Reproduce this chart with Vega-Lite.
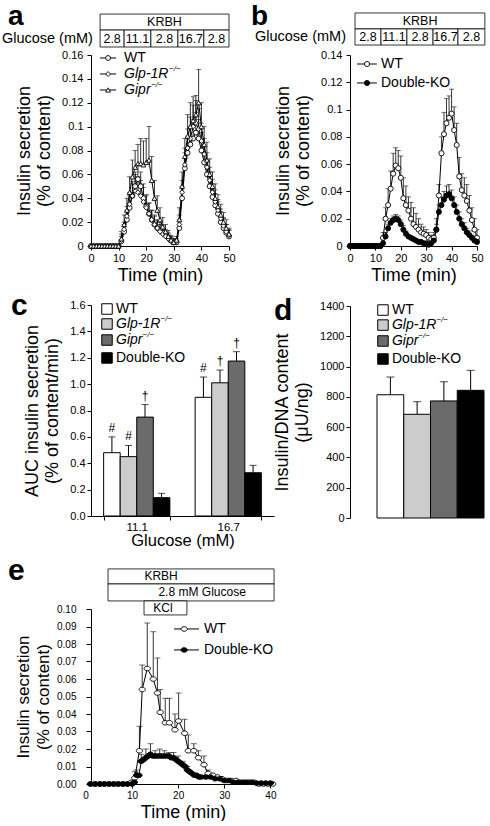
{
"$schema": "https://vega.github.io/schema/vega-lite/v6.json",
"padding": {"left": 1, "top": 2, "right": 0, "bottom": 0},
"spacing": -28,
"config": {
 "font": "Liberation Sans",
 "view": {"stroke": null},
 "axis": {"domainColor": "black", "tickColor": "black", "labelColor": "black", "titleColor": "black", "grid": false, "titleFontWeight": "normal", "labelFontSize": 11, "titleFontSize": 18, "titleLineHeight": 20, "tickSize": 4, "labelPadding": 2, "titlePadding": 3, "domainWidth": 1, "tickWidth": 1, "labelOverlap": false, "labelFlush": false},
 "axisY": {"titlePadding": 8},
 "text": {"color": "black"}
},
"datasets": {
 "a": [
  {"s":"WT","t":0,"v":0},{"s":"WT","t":1,"v":0},{"s":"WT","t":2,"v":0},{"s":"WT","t":3,"v":0},{"s":"WT","t":4,"v":0},{"s":"WT","t":5,"v":0},{"s":"WT","t":6,"v":0},{"s":"WT","t":7,"v":0},{"s":"WT","t":8,"v":0},{"s":"WT","t":9,"v":0},{"s":"WT","t":10,"v":0},
  {"s":"WT","t":11,"v":0.004,"h":0.008},{"s":"WT","t":12,"v":0.012,"h":0.018},{"s":"WT","t":13,"v":0.022,"h":0.03},{"s":"WT","t":14,"v":0.032,"h":0.042},{"s":"WT","t":15,"v":0.042,"h":0.052},{"s":"WT","t":16,"v":0.05,"h":0.062},{"s":"WT","t":17,"v":0.056,"h":0.068},{"s":"WT","t":18,"v":0.05,"h":0.062},{"s":"WT","t":19,"v":0.04,"h":0.052},{"s":"WT","t":20,"v":0.033,"h":0.043},
  {"s":"WT","t":21,"v":0.027,"h":0.036},{"s":"WT","t":22,"v":0.022,"h":0.03},{"s":"WT","t":23,"v":0.018,"h":0.026},{"s":"WT","t":24,"v":0.015,"h":0.022},{"s":"WT","t":25,"v":0.013,"h":0.02},{"s":"WT","t":26,"v":0.011,"h":0.017},{"s":"WT","t":27,"v":0.009,"h":0.014},{"s":"WT","t":28,"v":0.007,"h":0.011},{"s":"WT","t":29,"v":0.005,"h":0.008},{"s":"WT","t":30,"v":0.003,"h":0.006},
  {"s":"WT","t":31,"v":0.003,"h":0.005},{"s":"WT","t":32,"v":0.015,"h":0.022},{"s":"WT","t":33,"v":0.04,"h":0.05},{"s":"WT","t":34,"v":0.065,"h":0.078},{"s":"WT","t":35,"v":0.078,"h":0.092},{"s":"WT","t":36,"v":0.085,"h":0.1},{"s":"WT","t":37,"v":0.09,"h":0.106},{"s":"WT","t":38,"v":0.095,"h":0.112},{"s":"WT","t":39,"v":0.09,"h":0.106},{"s":"WT","t":40,"v":0.08,"h":0.095},
  {"s":"WT","t":41,"v":0.07,"h":0.083},{"s":"WT","t":42,"v":0.06,"h":0.072},{"s":"WT","t":43,"v":0.05,"h":0.062},{"s":"WT","t":44,"v":0.041,"h":0.052},{"s":"WT","t":45,"v":0.034,"h":0.044},{"s":"WT","t":46,"v":0.027,"h":0.037},{"s":"WT","t":47,"v":0.02,"h":0.029},{"s":"WT","t":48,"v":0.015,"h":0.023},{"s":"WT","t":49,"v":0.011,"h":0.018},{"s":"WT","t":50,"v":0.008,"h":0.013},
  {"s":"Glp","t":0,"v":0},{"s":"Glp","t":1,"v":0},{"s":"Glp","t":2,"v":0},{"s":"Glp","t":3,"v":0},{"s":"Glp","t":4,"v":0},{"s":"Glp","t":5,"v":0},{"s":"Glp","t":6,"v":0},{"s":"Glp","t":7,"v":0},{"s":"Glp","t":8,"v":0},{"s":"Glp","t":9,"v":0},{"s":"Glp","t":10,"v":0},
  {"s":"Glp","t":11,"v":0.005,"h":0.01},{"s":"Glp","t":12,"v":0.014,"h":0.02},{"s":"Glp","t":13,"v":0.025,"h":0.033},{"s":"Glp","t":14,"v":0.035,"h":0.045},{"s":"Glp","t":15,"v":0.042,"h":0.054},{"s":"Glp","t":16,"v":0.046,"h":0.06},{"s":"Glp","t":17,"v":0.045,"h":0.058},{"s":"Glp","t":18,"v":0.042,"h":0.055},{"s":"Glp","t":19,"v":0.037,"h":0.049},{"s":"Glp","t":20,"v":0.032,"h":0.042},
  {"s":"Glp","t":21,"v":0.027,"h":0.036},{"s":"Glp","t":22,"v":0.022,"h":0.03},{"s":"Glp","t":23,"v":0.018,"h":0.025},{"s":"Glp","t":24,"v":0.015,"h":0.021},{"s":"Glp","t":25,"v":0.012,"h":0.018},{"s":"Glp","t":26,"v":0.01,"h":0.015},{"s":"Glp","t":27,"v":0.008,"h":0.012},{"s":"Glp","t":28,"v":0.006,"h":0.01},{"s":"Glp","t":29,"v":0.004,"h":0.007},{"s":"Glp","t":30,"v":0.003,"h":0.005},
  {"s":"Glp","t":31,"v":0.004,"h":0.006},{"s":"Glp","t":32,"v":0.018,"h":0.026},{"s":"Glp","t":33,"v":0.045,"h":0.055},{"s":"Glp","t":34,"v":0.068,"h":0.082},{"s":"Glp","t":35,"v":0.082,"h":0.098},{"s":"Glp","t":36,"v":0.09,"h":0.108},{"s":"Glp","t":37,"v":0.1,"h":0.118},{"s":"Glp","t":38,"v":0.103,"h":0.122},{"s":"Glp","t":39,"v":0.098,"h":0.115},{"s":"Glp","t":40,"v":0.088,"h":0.103},
  {"s":"Glp","t":41,"v":0.077,"h":0.09},{"s":"Glp","t":42,"v":0.066,"h":0.078},{"s":"Glp","t":43,"v":0.055,"h":0.066},{"s":"Glp","t":44,"v":0.045,"h":0.056},{"s":"Glp","t":45,"v":0.037,"h":0.047},{"s":"Glp","t":46,"v":0.03,"h":0.039},{"s":"Glp","t":47,"v":0.023,"h":0.031},{"s":"Glp","t":48,"v":0.017,"h":0.024},{"s":"Glp","t":49,"v":0.012,"h":0.018},{"s":"Glp","t":50,"v":0.009,"h":0.014},
  {"s":"Gipr","t":0,"v":0},{"s":"Gipr","t":1,"v":0},{"s":"Gipr","t":2,"v":0},{"s":"Gipr","t":3,"v":0},{"s":"Gipr","t":4,"v":0},{"s":"Gipr","t":5,"v":0},{"s":"Gipr","t":6,"v":0},{"s":"Gipr","t":7,"v":0},{"s":"Gipr","t":8,"v":0},{"s":"Gipr","t":9,"v":0},{"s":"Gipr","t":10,"v":0},
  {"s":"Gipr","t":11,"v":0.006,"h":0.012},{"s":"Gipr","t":12,"v":0.018,"h":0.026},{"s":"Gipr","t":13,"v":0.03,"h":0.04},{"s":"Gipr","t":14,"v":0.045,"h":0.058},{"s":"Gipr","t":15,"v":0.058,"h":0.072},{"s":"Gipr","t":16,"v":0.066,"h":0.08},{"s":"Gipr","t":17,"v":0.069,"h":0.085},{"s":"Gipr","t":18,"v":0.069,"h":0.09},{"s":"Gipr","t":19,"v":0.068,"h":0.088},{"s":"Gipr","t":20,"v":0.07,"h":0.09},
  {"s":"Gipr","t":21,"v":0.072,"h":0.1},{"s":"Gipr","t":22,"v":0.055,"h":0.075},{"s":"Gipr","t":23,"v":0.04,"h":0.055},{"s":"Gipr","t":24,"v":0.03,"h":0.042},{"s":"Gipr","t":25,"v":0.022,"h":0.032},{"s":"Gipr","t":26,"v":0.016,"h":0.024},{"s":"Gipr","t":27,"v":0.012,"h":0.018},{"s":"Gipr","t":28,"v":0.008,"h":0.013},{"s":"Gipr","t":29,"v":0.005,"h":0.009},{"s":"Gipr","t":30,"v":0.003,"h":0.006},
  {"s":"Gipr","t":31,"v":0.005,"h":0.008},{"s":"Gipr","t":32,"v":0.022,"h":0.032},{"s":"Gipr","t":33,"v":0.05,"h":0.062},{"s":"Gipr","t":34,"v":0.075,"h":0.09},{"s":"Gipr","t":35,"v":0.092,"h":0.11},{"s":"Gipr","t":36,"v":0.1,"h":0.12},{"s":"Gipr","t":37,"v":0.105,"h":0.125},{"s":"Gipr","t":38,"v":0.11,"h":0.126},{"s":"Gipr","t":39,"v":0.12,"h":0.148},{"s":"Gipr","t":40,"v":0.1,"h":0.12},
  {"s":"Gipr","t":41,"v":0.085,"h":0.1},{"s":"Gipr","t":42,"v":0.072,"h":0.087},{"s":"Gipr","t":43,"v":0.06,"h":0.073},{"s":"Gipr","t":44,"v":0.05,"h":0.062},{"s":"Gipr","t":45,"v":0.04,"h":0.052},{"s":"Gipr","t":46,"v":0.033,"h":0.043},{"s":"Gipr","t":47,"v":0.026,"h":0.035},{"s":"Gipr","t":48,"v":0.02,"h":0.028},{"s":"Gipr","t":49,"v":0.015,"h":0.022},{"s":"Gipr","t":50,"v":0.01,"h":0.015}
 ],
 "aBox": [
  {"t":3.3,"t2":50,"v":0.1809,"v2":0.1943},{"t":3.3,"t2":12,"v":0.1667,"v2":0.1809},{"t":12,"t2":21.7,"v":0.1667,"v2":0.1809},{"t":21.7,"t2":31.5,"v":0.1667,"v2":0.1809},{"t":31.5,"t2":40.9,"v":0.1667,"v2":0.1809},{"t":40.9,"t2":50,"v":0.1667,"v2":0.1809}
 ],
 "aBoxText": [
  {"label":"KRBH","t":26.6,"v":0.1876},{"label":"2.8","t":7.65,"v":0.1738},{"label":"11.1","t":16.85,"v":0.1738},{"label":"2.8","t":26.6,"v":0.1738},{"label":"16.7","t":36.2,"v":0.1738},{"label":"2.8","t":45.45,"v":0.1738}
 ],
 "aLeg": [
  {"s":"WT","label":"WT","v":0.1575},{"s":"Glp","label":"Glp-1R","v":0.1441},{"s":"Gipr","label":"Gipr","v":0.1307}
 ],
 "b": [
  {"s":"WT","t":0,"v":0},{"s":"WT","t":1,"v":0},{"s":"WT","t":2,"v":0},{"s":"WT","t":3,"v":0},{"s":"WT","t":4,"v":0},{"s":"WT","t":5,"v":0},{"s":"WT","t":6,"v":0},{"s":"WT","t":7,"v":0},{"s":"WT","t":8,"v":0},{"s":"WT","t":9,"v":0},{"s":"WT","t":10,"v":0},{"s":"WT","t":11,"v":0},{"s":"WT","t":12,"v":0},
  {"s":"WT","t":13,"v":0.006,"h":0.01},{"s":"WT","t":14,"v":0.02,"h":0.028},{"s":"WT","t":15,"v":0.03,"h":0.042},{"s":"WT","t":16,"v":0.042,"h":0.055},{"s":"WT","t":17,"v":0.053,"h":0.068},{"s":"WT","t":18,"v":0.059,"h":0.072},{"s":"WT","t":19,"v":0.057,"h":0.07},{"s":"WT","t":20,"v":0.05,"h":0.066},
  {"s":"WT","t":21,"v":0.035,"h":0.05},{"s":"WT","t":22,"v":0.03,"h":0.044},{"s":"WT","t":23,"v":0.026,"h":0.036},{"s":"WT","t":24,"v":0.02,"h":0.032},{"s":"WT","t":25,"v":0.016,"h":0.028},{"s":"WT","t":26,"v":0.014,"h":0.024},{"s":"WT","t":27,"v":0.012,"h":0.02},{"s":"WT","t":28,"v":0.01,"h":0.016},{"s":"WT","t":29,"v":0.009,"h":0.014},{"s":"WT","t":30,"v":0.008,"h":0.012},
  {"s":"WT","t":31,"v":0.006,"h":0.01},{"s":"WT","t":32,"v":0.005,"h":0.008},{"s":"WT","t":33,"v":0.006,"h":0.01},{"s":"WT","t":34,"v":0.012,"h":0.02},{"s":"WT","t":35,"v":0.037,"h":0.045},{"s":"WT","t":36,"v":0.068,"h":0.08},{"s":"WT","t":37,"v":0.082,"h":0.098},{"s":"WT","t":38,"v":0.09,"h":0.108},{"s":"WT","t":39,"v":0.094,"h":0.11},{"s":"WT","t":40,"v":0.097,"h":0.115},
  {"s":"WT","t":41,"v":0.085,"h":0.102},{"s":"WT","t":42,"v":0.074,"h":0.09},{"s":"WT","t":43,"v":0.051,"h":0.065},{"s":"WT","t":44,"v":0.041,"h":0.053},{"s":"WT","t":45,"v":0.037,"h":0.05},{"s":"WT","t":46,"v":0.033,"h":0.045},{"s":"WT","t":47,"v":0.026,"h":0.037},{"s":"WT","t":48,"v":0.019,"h":0.028},{"s":"WT","t":49,"v":0.012,"h":0.02},{"s":"WT","t":50,"v":0.006,"h":0.012},
  {"s":"DKO","t":0,"v":0},{"s":"DKO","t":1,"v":0},{"s":"DKO","t":2,"v":0},{"s":"DKO","t":3,"v":0},{"s":"DKO","t":4,"v":0},{"s":"DKO","t":5,"v":0},{"s":"DKO","t":6,"v":0},{"s":"DKO","t":7,"v":0},{"s":"DKO","t":8,"v":0},{"s":"DKO","t":9,"v":0},{"s":"DKO","t":10,"v":0},{"s":"DKO","t":11,"v":0},{"s":"DKO","t":12,"v":0},
  {"s":"DKO","t":13,"v":0.002},{"s":"DKO","t":14,"v":0.007,"h":0.01},{"s":"DKO","t":15,"v":0.013,"h":0.016},{"s":"DKO","t":16,"v":0.017,"h":0.02},{"s":"DKO","t":17,"v":0.019,"h":0.022},{"s":"DKO","t":18,"v":0.02,"h":0.023},{"s":"DKO","t":19,"v":0.019,"h":0.022},{"s":"DKO","t":20,"v":0.016,"h":0.019},
  {"s":"DKO","t":21,"v":0.012,"h":0.015},{"s":"DKO","t":22,"v":0.009,"h":0.011},{"s":"DKO","t":23,"v":0.007},{"s":"DKO","t":24,"v":0.006},{"s":"DKO","t":25,"v":0.005},{"s":"DKO","t":26,"v":0.004},{"s":"DKO","t":27,"v":0.003},{"s":"DKO","t":28,"v":0.003},{"s":"DKO","t":29,"v":0.002},{"s":"DKO","t":30,"v":0.002},
  {"s":"DKO","t":31,"v":0.001},{"s":"DKO","t":32,"v":0.002},{"s":"DKO","t":33,"v":0.004},{"s":"DKO","t":34,"v":0.012,"h":0.016},{"s":"DKO","t":35,"v":0.025,"h":0.03},{"s":"DKO","t":36,"v":0.03,"h":0.036},{"s":"DKO","t":37,"v":0.034,"h":0.04},{"s":"DKO","t":38,"v":0.037,"h":0.044},{"s":"DKO","t":39,"v":0.038,"h":0.045},{"s":"DKO","t":40,"v":0.035,"h":0.041},
  {"s":"DKO","t":41,"v":0.03,"h":0.036},{"s":"DKO","t":42,"v":0.025,"h":0.03},{"s":"DKO","t":43,"v":0.02,"h":0.025},{"s":"DKO","t":44,"v":0.016,"h":0.02},{"s":"DKO","t":45,"v":0.013,"h":0.017},{"s":"DKO","t":46,"v":0.01,"h":0.013},{"s":"DKO","t":47,"v":0.008,"h":0.011},{"s":"DKO","t":48,"v":0.006,"h":0.008},{"s":"DKO","t":49,"v":0.004,"h":0.006},{"s":"DKO","t":50,"v":0.003,"h":0.005}
 ],
 "bBox": [
  {"t":1.97,"t2":53.1,"v":0.1591,"v2":0.1708},{"t":1.97,"t2":12.2,"v":0.1473,"v2":0.1591},{"t":12.2,"t2":22.4,"v":0.1473,"v2":0.1591},{"t":22.4,"t2":32.7,"v":0.1473,"v2":0.1591},{"t":32.7,"t2":42.5,"v":0.1473,"v2":0.1591},{"t":42.5,"t2":53.1,"v":0.1473,"v2":0.1591}
 ],
 "bBoxText": [
  {"label":"KRBH","t":27.6,"v":0.165},{"label":"2.8","t":7.1,"v":0.1532},{"label":"11.1","t":17.3,"v":0.1532},{"label":"2.8","t":27.6,"v":0.1532},{"label":"16.7","t":37.6,"v":0.1532},{"label":"2.8","t":47.8,"v":0.1532}
 ],
 "bLeg": [
  {"s":"WT","label":"WT","v":0.1334},{"s":"DKO","label":"Double-KO","v":0.1195}
 ],
 "c": [
  {"g":"11.1","s":"WT","v":0.48,"h":0.6,"m":"#"},{"g":"11.1","s":"Glp","v":0.45,"h":0.535,"m":"#"},{"g":"11.1","s":"Gipr","v":0.75,"h":0.845,"m":"†"},{"g":"11.1","s":"DKO","v":0.139,"h":0.172,"m":""},
  {"g":"16.7","s":"WT","v":0.9,"h":1.054,"m":"#"},{"g":"16.7","s":"Glp","v":1.01,"h":1.107,"m":"†"},{"g":"16.7","s":"Gipr","v":1.175,"h":1.246,"m":"†"},{"g":"16.7","s":"DKO","v":0.328,"h":0.384,"m":""}
 ],
 "d": [
  {"s":"WT","v":814,"h":931},{"s":"Glp","v":685,"h":768},{"s":"Gipr","v":773,"h":900},{"s":"DKO","v":843,"h":975}
 ],
 "cLeg": [
  {"s":"WT","label":"WT","ly":0.981},{"s":"Glp","label":"Glp-1R","ly":0.91},{"s":"Gipr","label":"Gipr","ly":0.834},{"s":"DKO","label":"Double-KO","ly":0.749}
 ],
 "dLeg": [
  {"s":"WT","label":"WT","ly":0.981},{"s":"Glp","label":"Glp-1R","ly":0.91},{"s":"Gipr","label":"Gipr","ly":0.835},{"s":"DKO","label":"Double-KO","ly":0.75}
 ],
 "e": [
  {"s":"WT","t":1,"v":0},{"s":"WT","t":2,"v":0},{"s":"WT","t":3,"v":0},{"s":"WT","t":4,"v":0},{"s":"WT","t":5,"v":0},{"s":"WT","t":6,"v":0},{"s":"WT","t":7,"v":0},{"s":"WT","t":8,"v":0},{"s":"WT","t":9,"v":0},{"s":"WT","t":9.8,"v":0.001},
  {"s":"WT","t":10.6,"v":0.0035,"h":0.007},{"s":"WT","t":11.6,"v":0.019,"h":0.033},{"s":"WT","t":12.2,"v":0.054,"h":0.068},{"s":"WT","t":13.3,"v":0.066,"h":0.092},{"s":"WT","t":14.6,"v":0.06,"h":0.087},{"s":"WT","t":15.5,"v":0.052,"h":0.072},{"s":"WT","t":16.1,"v":0.041,"h":0.054},{"s":"WT","t":17.2,"v":0.035,"h":0.049},{"s":"WT","t":18.1,"v":0.035,"h":0.049},{"s":"WT","t":19.3,"v":0.031,"h":0.04},
  {"s":"WT","t":20.1,"v":0.036,"h":0.052},{"s":"WT","t":21.4,"v":0.029,"h":0.037},{"s":"WT","t":22.2,"v":0.019,"h":0.028},{"s":"WT","t":23.4,"v":0.019,"h":0.023},{"s":"WT","t":24.4,"v":0.015,"h":0.019},{"s":"WT","t":25.6,"v":0.011,"h":0.016},{"s":"WT","t":26.5,"v":0.006,"h":0.008},{"s":"WT","t":27.5,"v":0.005},{"s":"WT","t":28.5,"v":0.004},{"s":"WT","t":29.5,"v":0.003},
  {"s":"WT","t":30.5,"v":0.002},{"s":"WT","t":31.5,"v":0.002},{"s":"WT","t":32.5,"v":0.002},{"s":"WT","t":33.5,"v":0.001},{"s":"WT","t":34.5,"v":0.001},{"s":"WT","t":35.5,"v":0.001},{"s":"WT","t":36.5,"v":0.001},{"s":"WT","t":37.5,"v":0},{"s":"WT","t":38.5,"v":0},{"s":"WT","t":39.5,"v":0},{"s":"WT","t":40.5,"v":0},
  {"s":"DKO","t":1,"v":0},{"s":"DKO","t":2,"v":0},{"s":"DKO","t":3,"v":0},{"s":"DKO","t":4,"v":0},{"s":"DKO","t":5,"v":0},{"s":"DKO","t":6,"v":0},{"s":"DKO","t":7,"v":0},{"s":"DKO","t":8,"v":0},{"s":"DKO","t":9,"v":0},{"s":"DKO","t":10,"v":0},
  {"s":"DKO","t":10.5,"v":0.001},{"s":"DKO","t":11,"v":0.005,"h":0.008},{"s":"DKO","t":11.5,"v":0.005},{"s":"DKO","t":12,"v":0.013,"h":0.017},{"s":"DKO","t":12.5,"v":0.014},{"s":"DKO","t":13,"v":0.015,"h":0.02},{"s":"DKO","t":13.5,"v":0.016},{"s":"DKO","t":14,"v":0.017,"h":0.023},{"s":"DKO","t":14.5,"v":0.016},{"s":"DKO","t":15,"v":0.016,"h":0.019},
  {"s":"DKO","t":15.5,"v":0.016},{"s":"DKO","t":16,"v":0.016,"h":0.02},{"s":"DKO","t":16.5,"v":0.016},{"s":"DKO","t":17,"v":0.016,"h":0.019},{"s":"DKO","t":17.5,"v":0.016},{"s":"DKO","t":18,"v":0.016,"h":0.018},{"s":"DKO","t":18.5,"v":0.015},{"s":"DKO","t":19,"v":0.015,"h":0.018},{"s":"DKO","t":19.5,"v":0.014},{"s":"DKO","t":20,"v":0.013,"h":0.016},
  {"s":"DKO","t":20.5,"v":0.012},{"s":"DKO","t":21,"v":0.011,"h":0.013},{"s":"DKO","t":21.5,"v":0.01},{"s":"DKO","t":22,"v":0.008,"h":0.01},{"s":"DKO","t":22.5,"v":0.007},{"s":"DKO","t":23,"v":0.006},{"s":"DKO","t":23.5,"v":0.005},{"s":"DKO","t":24,"v":0.005},{"s":"DKO","t":24.5,"v":0.004},{"s":"DKO","t":25,"v":0.004},
  {"s":"DKO","t":26,"v":0.004},{"s":"DKO","t":27,"v":0.004},{"s":"DKO","t":28,"v":0.003},{"s":"DKO","t":29,"v":0.003},{"s":"DKO","t":30,"v":0.002},{"s":"DKO","t":31,"v":0.002},{"s":"DKO","t":32,"v":0.001},{"s":"DKO","t":33,"v":0.001},{"s":"DKO","t":34,"v":0.001},{"s":"DKO","t":35,"v":0.001},
  {"s":"DKO","t":36,"v":0.001},{"s":"DKO","t":37,"v":0.0005},{"s":"DKO","t":38,"v":0.0005},{"s":"DKO","t":39,"v":0.0005},{"s":"DKO","t":40,"v":0.0005}
 ],
 "eBox": [
  {"t":4.79,"t2":40.8,"v":0.1143,"v2":0.1229},{"t":4.79,"t2":40.8,"v":0.1046,"v2":0.1143},{"t":12.6,"t2":21.9,"v":0.0966,"v2":0.1046}
 ],
 "eBoxText": [
  {"label":"KRBH","t":16.3,"v":0.1189},{"label":"2.8 mM Glucose","t":25.2,"v":0.1097},{"label":"KCl","t":16.7,"v":0.1006}
 ],
 "eLeg": [
  {"s":"WT","label":"WT","v":0.0886},{"s":"DKO","label":"Double-KO","v":0.0766}
 ]
},
"hconcat": [
 {"vconcat": [
  {"width": 138, "height": 191,
   "layer": [
    {"data": {"name": "a"}, "transform": [{"filter": "datum.h != null"}], "mark": {"type": "rule", "color": "black", "strokeWidth": 0.8},
     "encoding": {
      "x": {"field": "t", "type": "quantitative", "scale": {"domain": [0, 50], "nice": false, "zero": false}, "axis": {"values": [0, 10, 20, 30, 40, 50], "tickCount": 30, "title": "Time (min)", "labelOverlap": false, "labelFlush": false}},
      "y": {"field": "v", "type": "quantitative", "scale": {"domain": [0, 0.16], "nice": false}, "axis": {"values": [0, 0.02, 0.04, 0.06, 0.08, 0.1, 0.12, 0.14, 0.16], "tickCount": 30, "format": "~g", "labelOverlap": false, "labelPadding": 4, "title": ["Insulin secretion", "(% of content)"]}},
      "y2": {"field": "h"}}},
    {"data": {"name": "a"}, "transform": [{"filter": "datum.h != null"}], "mark": {"type": "tick", "orient": "horizontal", "color": "black", "size": 5, "thickness": 0.8},
     "encoding": {"x": {"field": "t", "type": "quantitative"}, "y": {"field": "h", "type": "quantitative"}}},
    {"data": {"name": "a"}, "mark": {"type": "line", "color": "black", "strokeWidth": 1},
     "encoding": {"x": {"field": "t", "type": "quantitative"}, "y": {"field": "v", "type": "quantitative"}, "detail": {"field": "s"}}},
    {"data": {"name": "a"}, "mark": {"type": "point", "filled": true, "fill": "white", "stroke": "black", "strokeWidth": 0.9, "size": 24, "opacity": 1},
     "encoding": {"x": {"field": "t", "type": "quantitative"}, "y": {"field": "v", "type": "quantitative"},
      "shape": {"field": "s", "type": "nominal", "scale": {"domain": ["WT", "Glp", "Gipr"], "range": ["circle", "diamond", "triangle-up"]}, "legend": null}}},
    {"data": {"name": "aBox"}, "mark": {"type": "rect", "fill": "white", "stroke": "black", "strokeWidth": 0.8},
     "encoding": {"x": {"field": "t", "type": "quantitative"}, "x2": {"field": "t2"}, "y": {"field": "v", "type": "quantitative"}, "y2": {"field": "v2"}}},
    {"data": {"name": "aBoxText"}, "mark": {"type": "text", "fontSize": 12.5, "baseline": "middle"},
     "encoding": {"x": {"field": "t", "type": "quantitative"}, "y": {"field": "v", "type": "quantitative"}, "text": {"field": "label"}}},
    {"data": {"values": [{}]}, "mark": {"type": "text", "fontSize": 14.5, "align": "right", "baseline": "middle", "text": "Glucose (mM)"},
     "encoding": {"x": {"datum": 0.7, "type": "quantitative"}, "y": {"datum": 0.1738, "type": "quantitative"}}},
    {"data": {"values": [{}]}, "mark": {"type": "text", "fontSize": 28, "fontWeight": "bold", "align": "left", "baseline": "alphabetic", "text": "a"},
     "encoding": {"x": {"datum": -30.1, "type": "quantitative"}, "y": {"datum": 0.1851, "type": "quantitative"}}},
    {"data": {"name": "aLeg"}, "mark": {"type": "rule", "color": "black", "strokeWidth": 1},
     "encoding": {"x": {"datum": 3.3, "type": "quantitative"}, "x2": {"datum": 9.1}, "y": {"field": "v", "type": "quantitative"}}},
    {"data": {"name": "aLeg"}, "mark": {"type": "point", "filled": true, "fill": "white", "stroke": "black", "strokeWidth": 0.9, "size": 24, "opacity": 1},
     "encoding": {"x": {"datum": 6.2, "type": "quantitative"}, "y": {"field": "v", "type": "quantitative"},
      "shape": {"field": "s", "type": "nominal", "scale": {"domain": ["WT", "Glp", "Gipr"], "range": ["circle", "diamond", "triangle-up"]}, "legend": null}}},
    {"data": {"name": "aLeg"}, "transform": [{"filter": "datum.s == 'WT'"}], "mark": {"type": "text", "fontSize": 14, "align": "left", "baseline": "middle"},
     "encoding": {"x": {"datum": 12, "type": "quantitative"}, "y": {"field": "v", "type": "quantitative"}, "text": {"field": "label"}}},
    {"data": {"name": "aLeg"}, "transform": [{"filter": "datum.s != 'WT'"}], "mark": {"type": "text", "fontSize": 14, "fontStyle": "italic", "align": "left", "baseline": "middle"},
     "encoding": {"x": {"datum": 12, "type": "quantitative"}, "y": {"field": "v", "type": "quantitative"}, "text": {"field": "label"}}},
    {"data": {"values": [{}]}, "mark": {"type": "text", "fontSize": 8, "fontStyle": "italic", "align": "left", "baseline": "middle", "dy": -5, "text": "−/−"},
     "encoding": {"x": {"datum": 28.3, "type": "quantitative"}, "y": {"datum": 0.1441, "type": "quantitative"}}},
    {"data": {"values": [{}]}, "mark": {"type": "text", "fontSize": 8, "fontStyle": "italic", "align": "left", "baseline": "middle", "dy": -5, "text": "−/−"},
     "encoding": {"x": {"datum": 21.8, "type": "quantitative"}, "y": {"datum": 0.1307, "type": "quantitative"}}}
   ]},
  {"width": 183, "height": 211,
   "resolve": {"scale": {"x": "independent", "y": "independent"}},
   "layer": [
    {"data": {"name": "c"},
     "layer": [
      {"mark": {"type": "bar", "stroke": "black", "strokeWidth": 1},
       "encoding": {
        "x": {"field": "g", "type": "nominal", "scale": {"paddingInner": 0.276, "paddingOuter": 0.138}, "axis": {"title": "Glucose (mM)", "labelAngle": 0, "tickBand": "extent", "labelFontSize": 11.5, "labelPadding": 1, "titleFontSize": 16.5, "titlePadding": 0, "labelOverlap": false}},
        "xOffset": {"field": "s", "type": "nominal", "scale": {"domain": ["WT", "Glp", "Gipr", "DKO"]}},
        "y": {"field": "v", "type": "quantitative", "scale": {"domain": [0, 1.6], "nice": false}, "axis": {"values": [0, 0.2, 0.4, 0.6, 0.8, 1.0, 1.2, 1.4, 1.6], "tickCount": 30, "format": ".1f", "labelOverlap": false, "title": ["AUC insulin secretion", "(% of content/min)"]}},
        "fill": {"field": "s", "type": "nominal", "scale": {"domain": ["WT", "Glp", "Gipr", "DKO"], "range": ["white", "#cccccc", "#6b6b6b", "black"]}, "legend": null}}},
      {"mark": {"type": "rule", "color": "black", "strokeWidth": 1},
       "encoding": {"x": {"field": "g", "type": "nominal"}, "xOffset": {"field": "s", "type": "nominal"}, "y": {"field": "v", "type": "quantitative"}, "y2": {"field": "h"}}},
      {"mark": {"type": "tick", "orient": "horizontal", "color": "black", "size": 7, "thickness": 1},
       "encoding": {"x": {"field": "g", "type": "nominal"}, "xOffset": {"field": "s", "type": "nominal"}, "y": {"field": "h", "type": "quantitative"}}},
      {"mark": {"type": "text", "baseline": "bottom", "dy": -2, "fontSize": 12},
       "encoding": {"x": {"field": "g", "type": "nominal"}, "xOffset": {"field": "s", "type": "nominal"}, "y": {"field": "h", "type": "quantitative"}, "text": {"field": "m"}}}
     ]},
    {"data": {"name": "cLeg"},
     "layer": [
      {"mark": {"type": "point", "shape": "square", "filled": true, "stroke": "black", "strokeWidth": 1, "size": 110, "opacity": 1},
       "encoding": {"x": {"datum": 0.0874, "type": "quantitative", "scale": {"domain": [0, 1], "nice": false}, "axis": null}, "y": {"field": "ly", "type": "quantitative", "scale": {"domain": [0, 1], "nice": false}, "axis": null},
        "fill": {"field": "s", "type": "nominal", "scale": {"domain": ["WT", "Glp", "Gipr", "DKO"], "range": ["white", "#cccccc", "#6b6b6b", "black"]}, "legend": null}}},
      {"transform": [{"filter": "datum.s == 'WT' || datum.s == 'DKO'"}], "mark": {"type": "text", "fontSize": 14, "align": "left", "baseline": "middle"},
       "encoding": {"x": {"datum": 0.1366, "type": "quantitative", "axis": null}, "y": {"field": "ly", "type": "quantitative", "axis": null}, "text": {"field": "label"}}},
      {"transform": [{"filter": "datum.s == 'Glp' || datum.s == 'Gipr'"}], "mark": {"type": "text", "fontSize": 14, "fontStyle": "italic", "align": "left", "baseline": "middle"},
       "encoding": {"x": {"datum": 0.1366, "type": "quantitative", "axis": null}, "y": {"field": "ly", "type": "quantitative", "axis": null}, "text": {"field": "label"}}},
      {"transform": [{"filter": "datum.s == 'Glp'"}], "mark": {"type": "text", "fontSize": 8, "fontStyle": "italic", "align": "left", "baseline": "middle", "dy": -5, "text": "−/−"},
       "encoding": {"x": {"datum": 0.38, "type": "quantitative", "axis": null}, "y": {"field": "ly", "type": "quantitative", "axis": null}}},
      {"transform": [{"filter": "datum.s == 'Gipr'"}], "mark": {"type": "text", "fontSize": 8, "fontStyle": "italic", "align": "left", "baseline": "middle", "dy": -5, "text": "−/−"},
       "encoding": {"x": {"datum": 0.282, "type": "quantitative", "axis": null}, "y": {"field": "ly", "type": "quantitative", "axis": null}}},
      {"transform": [{"filter": "datum.s == 'WT'"}], "mark": {"type": "text", "fontSize": 30, "fontWeight": "bold", "align": "left", "baseline": "alphabetic", "text": "c"},
       "encoding": {"x": {"datum": -0.437, "type": "quantitative", "axis": null}, "y": {"datum": 0.953, "type": "quantitative", "axis": null}}}
     ]}
   ]},
  {"width": 184, "height": 175,
   "layer": [
    {"data": {"name": "e"}, "transform": [{"filter": "datum.h != null"}], "mark": {"type": "rule", "color": "black", "strokeWidth": 0.8},
     "encoding": {
      "x": {"field": "t", "type": "quantitative", "scale": {"domain": [1.1, 41], "nice": false, "zero": false}, "axis": {"values": [10, 20, 30, 40], "tickCount": 30, "title": "Time (min)", "labelFontSize": 10, "labelOverlap": false, "labelFlush": false}},
      "y": {"field": "v", "type": "quantitative", "scale": {"domain": [0, 0.1], "nice": false}, "axis": {"values": [0, 0.01, 0.02, 0.03, 0.04, 0.05, 0.06, 0.07, 0.08, 0.09, 0.1], "tickCount": 30, "format": ".2f", "labelFontSize": 10, "labelOverlap": false, "tickSize": 5, "labelPadding": 10, "titlePadding": 4, "titleFontSize": 17, "title": ["Insulin secretion", "(% of content)"]}},
      "y2": {"field": "h"}}},
    {"data": {"name": "e"}, "transform": [{"filter": "datum.h != null"}], "mark": {"type": "tick", "orient": "horizontal", "color": "black", "size": 6, "thickness": 0.8},
     "encoding": {"x": {"field": "t", "type": "quantitative"}, "y": {"field": "h", "type": "quantitative"}}},
    {"data": {"name": "e"}, "mark": {"type": "line", "color": "black", "strokeWidth": 1},
     "encoding": {"x": {"field": "t", "type": "quantitative"}, "y": {"field": "v", "type": "quantitative"}, "detail": {"field": "s"}}},
    {"data": {"name": "e"}, "mark": {"type": "point", "shape": "M-1,0A1,0.72,0,1,1,1,0A1,0.72,0,1,1,-1,0Z", "filled": true, "stroke": "black", "strokeWidth": 0.9, "size": 40, "opacity": 1},
     "encoding": {"x": {"field": "t", "type": "quantitative"}, "y": {"field": "v", "type": "quantitative"},
      "fill": {"field": "s", "type": "nominal", "scale": {"domain": ["WT", "Glp", "Gipr", "DKO"], "range": ["white", "#cccccc", "#6b6b6b", "black"]}, "legend": null}}},
    {"data": {"name": "eBox"}, "mark": {"type": "rect", "fill": "white", "stroke": "black", "strokeWidth": 0.8},
     "encoding": {"x": {"field": "t", "type": "quantitative"}, "x2": {"field": "t2"}, "y": {"field": "v", "type": "quantitative"}, "y2": {"field": "v2"}}},
    {"data": {"name": "eBoxText"}, "mark": {"type": "text", "fontSize": 12, "baseline": "middle"},
     "encoding": {"x": {"field": "t", "type": "quantitative"}, "y": {"field": "v", "type": "quantitative"}, "text": {"field": "label"}}},
    {"data": {"values": [{}]}, "mark": {"type": "text", "fontSize": 10, "baseline": "top", "text": "0"},
     "encoding": {"x": {"datum": 0, "type": "quantitative"}, "y": {"datum": -0.004, "type": "quantitative"}}},
    {"data": {"values": [{}]}, "mark": {"type": "text", "fontSize": 30, "fontWeight": "bold", "align": "left", "baseline": "alphabetic", "text": "e"},
     "encoding": {"x": {"datum": -16.9, "type": "quantitative"}, "y": {"datum": 0.1166, "type": "quantitative"}}},
    {"data": {"name": "eLeg"}, "mark": {"type": "rule", "color": "black", "strokeWidth": 1},
     "encoding": {"x": {"datum": 19.1, "type": "quantitative"}, "x2": {"datum": 24.5}, "y": {"field": "v", "type": "quantitative"}}},
    {"data": {"name": "eLeg"}, "mark": {"type": "point", "shape": "M-1,0A1,0.72,0,1,1,1,0A1,0.72,0,1,1,-1,0Z", "filled": true, "stroke": "black", "strokeWidth": 0.9, "size": 40, "opacity": 1},
     "encoding": {"x": {"datum": 21.3, "type": "quantitative"}, "y": {"field": "v", "type": "quantitative"},
      "fill": {"field": "s", "type": "nominal", "scale": {"domain": ["WT", "Glp", "Gipr", "DKO"], "range": ["white", "#cccccc", "#6b6b6b", "black"]}, "legend": null}}},
    {"data": {"name": "eLeg"}, "mark": {"type": "text", "fontSize": 14, "align": "left", "baseline": "middle"},
     "encoding": {"x": {"datum": 25.6, "type": "quantitative"}, "y": {"field": "v", "type": "quantitative"}, "text": {"field": "label"}}}
   ]}
 ], "spacing": 6},
 {"vconcat": [
  {"width": 127, "height": 191,
   "layer": [
    {"data": {"name": "b"}, "transform": [{"filter": "datum.h != null"}], "mark": {"type": "rule", "color": "black", "strokeWidth": 0.8},
     "encoding": {
      "x": {"field": "t", "type": "quantitative", "scale": {"domain": [0, 50], "nice": false, "zero": false}, "axis": {"values": [0, 10, 20, 30, 40, 50], "tickCount": 30, "title": "Time (min)", "labelOverlap": false, "labelFlush": false}},
      "y": {"field": "v", "type": "quantitative", "scale": {"domain": [0, 0.14], "nice": false}, "axis": {"values": [0, 0.02, 0.04, 0.06, 0.08, 0.1, 0.12, 0.14], "tickCount": 30, "format": "~g", "labelOverlap": false, "labelPadding": 4, "title": ["Insulin secretion", "(% of content)"]}},
      "y2": {"field": "h"}}},
    {"data": {"name": "b"}, "transform": [{"filter": "datum.h != null"}], "mark": {"type": "tick", "orient": "horizontal", "color": "black", "size": 5, "thickness": 0.8},
     "encoding": {"x": {"field": "t", "type": "quantitative"}, "y": {"field": "h", "type": "quantitative"}}},
    {"data": {"name": "b"}, "mark": {"type": "line", "color": "black", "strokeWidth": 1},
     "encoding": {"x": {"field": "t", "type": "quantitative"}, "y": {"field": "v", "type": "quantitative"}, "detail": {"field": "s"}}},
    {"data": {"name": "b"}, "mark": {"type": "point", "shape": "circle", "filled": true, "stroke": "black", "strokeWidth": 0.9, "size": 26, "opacity": 1},
     "encoding": {"x": {"field": "t", "type": "quantitative"}, "y": {"field": "v", "type": "quantitative"},
      "fill": {"field": "s", "type": "nominal", "scale": {"domain": ["WT", "Glp", "Gipr", "DKO"], "range": ["white", "#cccccc", "#6b6b6b", "black"]}, "legend": null}}},
    {"data": {"name": "bBox"}, "mark": {"type": "rect", "fill": "white", "stroke": "black", "strokeWidth": 0.8},
     "encoding": {"x": {"field": "t", "type": "quantitative"}, "x2": {"field": "t2"}, "y": {"field": "v", "type": "quantitative"}, "y2": {"field": "v2"}}},
    {"data": {"name": "bBoxText"}, "mark": {"type": "text", "fontSize": 12.5, "baseline": "middle"},
     "encoding": {"x": {"field": "t", "type": "quantitative"}, "y": {"field": "v", "type": "quantitative"}, "text": {"field": "label"}}},
    {"data": {"values": [{}]}, "mark": {"type": "text", "fontSize": 14.5, "align": "right", "baseline": "middle", "text": "Glucose (mM)"},
     "encoding": {"x": {"datum": -1.57, "type": "quantitative"}, "y": {"datum": 0.1532, "type": "quantitative"}}},
    {"data": {"values": [{}]}, "mark": {"type": "text", "fontSize": 28, "fontWeight": "bold", "align": "left", "baseline": "alphabetic", "text": "b"},
     "encoding": {"x": {"datum": -39, "type": "quantitative"}, "y": {"datum": 0.162, "type": "quantitative"}}},
    {"data": {"name": "bLeg"}, "mark": {"type": "rule", "color": "black", "strokeWidth": 1},
     "encoding": {"x": {"datum": 2.76, "type": "quantitative"}, "x2": {"datum": 10.6}, "y": {"field": "v", "type": "quantitative"}}},
    {"data": {"name": "bLeg"}, "mark": {"type": "point", "shape": "circle", "filled": true, "stroke": "black", "strokeWidth": 0.9, "size": 26, "opacity": 1},
     "encoding": {"x": {"datum": 6.7, "type": "quantitative"}, "y": {"field": "v", "type": "quantitative"},
      "fill": {"field": "s", "type": "nominal", "scale": {"domain": ["WT", "Glp", "Gipr", "DKO"], "range": ["white", "#cccccc", "#6b6b6b", "black"]}, "legend": null}}},
    {"data": {"name": "bLeg"}, "mark": {"type": "text", "fontSize": 14, "align": "left", "baseline": "middle"},
     "encoding": {"x": {"datum": 12.2, "type": "quantitative"}, "y": {"field": "v", "type": "quantitative"}, "text": {"field": "label"}}}
   ]},
  {"width": 134, "height": 212,
   "resolve": {"scale": {"x": "independent", "y": "independent"}},
   "layer": [
    {"data": {"name": "d"},
     "layer": [
      {"mark": {"type": "bar", "stroke": "black", "strokeWidth": 1},
       "encoding": {
        "x": {"field": "s", "type": "nominal", "scale": {"domain": ["WT", "Glp", "Gipr", "DKO"], "paddingInner": 0, "paddingOuter": 0.505, "align": 1}, "axis": null},
        "y": {"field": "v", "type": "quantitative", "scale": {"domain": [0, 1400], "nice": false}, "axis": {"values": [0, 200, 400, 600, 800, 1000, 1200, 1400], "tickCount": 30, "format": "d", "labelOverlap": false, "title": ["Insulin/DNA content", "(μU/ng)"]}},
        "fill": {"field": "s", "type": "nominal", "scale": {"domain": ["WT", "Glp", "Gipr", "DKO"], "range": ["white", "#cccccc", "#6b6b6b", "black"]}, "legend": null}}},
      {"mark": {"type": "rule", "color": "black", "strokeWidth": 1},
       "encoding": {"x": {"field": "s", "type": "nominal"}, "y": {"field": "v", "type": "quantitative"}, "y2": {"field": "h"}}},
      {"mark": {"type": "tick", "orient": "horizontal", "color": "black", "size": 8, "thickness": 1},
       "encoding": {"x": {"field": "s", "type": "nominal"}, "y": {"field": "h", "type": "quantitative"}}}
     ]},
    {"data": {"name": "dLeg"},
     "layer": [
      {"mark": {"type": "point", "shape": "square", "filled": true, "stroke": "black", "strokeWidth": 1, "size": 110, "opacity": 1},
       "encoding": {"x": {"datum": 0.246, "type": "quantitative", "scale": {"domain": [0, 1], "nice": false}, "axis": null}, "y": {"field": "ly", "type": "quantitative", "scale": {"domain": [0, 1], "nice": false}, "axis": null},
        "fill": {"field": "s", "type": "nominal", "scale": {"domain": ["WT", "Glp", "Gipr", "DKO"], "range": ["white", "#cccccc", "#6b6b6b", "black"]}, "legend": null}}},
      {"transform": [{"filter": "datum.s == 'WT' || datum.s == 'DKO'"}], "mark": {"type": "text", "fontSize": 14, "align": "left", "baseline": "middle"},
       "encoding": {"x": {"datum": 0.313, "type": "quantitative", "axis": null}, "y": {"field": "ly", "type": "quantitative", "axis": null}, "text": {"field": "label"}}},
      {"transform": [{"filter": "datum.s == 'Glp' || datum.s == 'Gipr'"}], "mark": {"type": "text", "fontSize": 14, "fontStyle": "italic", "align": "left", "baseline": "middle"},
       "encoding": {"x": {"datum": 0.313, "type": "quantitative", "axis": null}, "y": {"field": "ly", "type": "quantitative", "axis": null}, "text": {"field": "label"}}},
      {"transform": [{"filter": "datum.s == 'Glp'"}], "mark": {"type": "text", "fontSize": 8, "fontStyle": "italic", "align": "left", "baseline": "middle", "dy": -5, "text": "−/−"},
       "encoding": {"x": {"datum": 0.645, "type": "quantitative", "axis": null}, "y": {"field": "ly", "type": "quantitative", "axis": null}}},
      {"transform": [{"filter": "datum.s == 'Gipr'"}], "mark": {"type": "text", "fontSize": 8, "fontStyle": "italic", "align": "left", "baseline": "middle", "dy": -5, "text": "−/−"},
       "encoding": {"x": {"datum": 0.51, "type": "quantitative", "axis": null}, "y": {"field": "ly", "type": "quantitative", "axis": null}}},
      {"transform": [{"filter": "datum.s == 'WT'"}], "mark": {"type": "text", "fontSize": 30, "fontWeight": "bold", "align": "left", "baseline": "alphabetic", "text": "d"},
       "encoding": {"x": {"datum": -0.567, "type": "quantitative", "axis": null}, "y": {"datum": 0.934, "type": "quantitative", "axis": null}}}
     ]}
   ]}
 ], "spacing": 11}
]
}
